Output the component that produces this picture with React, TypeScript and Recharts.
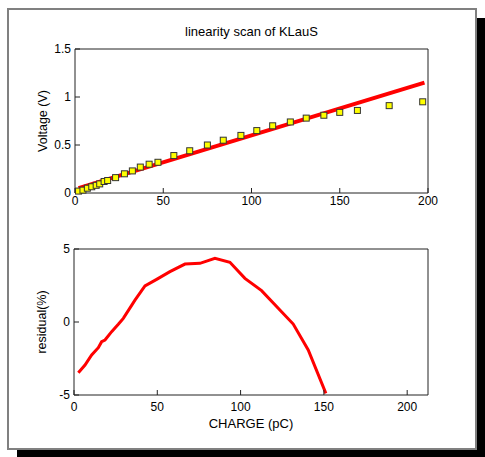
import { ComposedChart, Scatter, Line, XAxis, YAxis } from 'recharts';

// measured charge (pC) and output voltage (V)
const charge = [2, 4.5, 7, 9.5, 12, 14, 16.5, 18.5, 23, 28, 32.5, 37, 42, 47, 56, 65, 75, 84, 94, 103, 112, 122, 131, 141, 150, 160, 178, 197];
const voltage = [0.02, 0.03, 0.05, 0.065, 0.08, 0.095, 0.12, 0.13, 0.16, 0.2, 0.23, 0.27, 0.3, 0.32, 0.39, 0.44, 0.5, 0.55, 0.6, 0.65, 0.7, 0.74, 0.78, 0.81, 0.84, 0.86, 0.91, 0.95];

// linear fit endpoints
const fitCharge = [2, 198];
const fitVoltage = [0.05, 1.15];

// residual of the fit (%)
const resCharge = [2.6, 6.6, 10.6, 14.6, 16.6, 18.6, 22.6, 26.6, 29.6, 36.6, 42.6, 49.6, 57.6, 66.6, 75.6, 84.6, 93.6, 102.6, 112.6, 122.6, 131.6, 140.6, 151.2];
const resValue = [-3.47, -2.95, -2.26, -1.76, -1.35, -1.23, -0.66, -0.16, 0.25, 1.5, 2.47, 2.92, 3.45, 3.97, 4.02, 4.36, 4.09, 2.99, 2.15, 0.94, -0.14, -1.92, -4.89];

const topXTicks = [0, 50, 100, 150, 200];
const topYTicks = [0, 0.5, 1, 1.5];
const botXTicks = [0, 50, 100, 150, 200];
const botYTicks = [-5, 0, 5];

const FONT = '"Liberation Sans", Arial, sans-serif';
const tickStyle = { fontSize: 12, fill: '#000', fontFamily: FONT };
const labelStyle = { fontSize: 12.5, fill: '#000', fontFamily: FONT };
const axisColor = '#222';

const scanData = charge.map((x, i) => ({ x, y: voltage[i] }));
const fitData = fitCharge.map((x, i) => ({ x, y: fitVoltage[i] }));
const resData = resCharge.map((x, i) => ({ x, y: resValue[i] }));

function Square(props: any) {
  const { cx, cy } = props;
  return <rect x={cx - 3} y={cy - 3} width={6} height={6} fill="#ffff00" stroke="#333" strokeWidth={1} />;
}

export default function App() {
  return (
    <div style={{ position: 'absolute', left: 0, top: 0, width: 485, height: 457, background: '#fff', overflow: 'hidden', fontFamily: FONT }}>
      <div
        style={{
          position: 'absolute',
          left: 7,
          top: 8,
          width: 470,
          height: 442,
          boxSizing: 'border-box',
          border: '2px solid #808080',
          background: '#fff',
          boxShadow: '10px 10px 0 #000',
        }}
      />
      <div style={{ position: 'absolute', left: 75, width: 353, top: 24, textAlign: 'center', fontSize: 13, color: '#000' }}>
        linearity scan of KLauS
      </div>

      <div style={{ position: 'absolute', left: 0, top: 0 }}>
        <ComposedChart width={485} height={215} margin={{ top: 48, right: 56, bottom: 2, left: 11 }}>
          <XAxis
            dataKey="x"
            type="number"
            domain={[0, 200]}
            ticks={topXTicks}
            height={20}
            tickSize={-5}
            tickMargin={8}
            stroke={axisColor}
            tick={tickStyle}
          />
          <XAxis xAxisId="top" orientation="top" type="number" domain={[0, 200]} ticks={topXTicks} height={1} tickSize={-5} tick={false} stroke={axisColor} />
          <YAxis
            dataKey="y"
            type="number"
            domain={[0, 1.5]}
            ticks={topYTicks}
            width={64}
            tickSize={-5}
            tickMargin={9}
            stroke={axisColor}
            tick={tickStyle}
            label={{ value: 'Voltage (V)', angle: -90, position: 'center', style: labelStyle }}
          />
          <YAxis yAxisId="r" orientation="right" type="number" domain={[0, 1.5]} ticks={topYTicks} width={1} tickSize={-5} tick={false} stroke={axisColor} />
          <Line data={fitData} dataKey="y" stroke="#ff0000" strokeWidth={4} dot={false} isAnimationActive={false} />
          <Scatter data={scanData} dataKey="y" shape={Square} isAnimationActive={false} />
        </ComposedChart>
      </div>

      <div style={{ position: 'absolute', left: 0, top: 215 }}>
        <ComposedChart width={485} height={242} margin={{ top: 33, right: 56, bottom: 6, left: 10 }}>
          <XAxis
            dataKey="x"
            type="number"
            domain={[0, 212.5]}
            ticks={botXTicks}
            height={56}
            tickSize={-5}
            tickMargin={12}
            stroke={axisColor}
            tick={tickStyle}
            label={{ value: 'CHARGE (pC)', position: 'center', style: { ...labelStyle, fontSize: 13 } }}
          />
          <XAxis xAxisId="top" orientation="top" type="number" domain={[0, 212.5]} ticks={botXTicks} height={1} tickSize={-5} tick={false} stroke={axisColor} />
          <YAxis
            dataKey="y"
            type="number"
            domain={[-5, 5]}
            ticks={botYTicks}
            width={64}
            tickSize={-5}
            tickMargin={9}
            stroke={axisColor}
            tick={tickStyle}
            label={{ value: 'residual(%)', angle: -90, position: 'center', style: labelStyle }}
          />
          <YAxis yAxisId="r" orientation="right" type="number" domain={[-5, 5]} ticks={botYTicks} width={1} tickSize={-5} tick={false} stroke={axisColor} />
          <Line data={resData} dataKey="y" stroke="#ff0000" strokeWidth={3} dot={false} isAnimationActive={false} />
        </ComposedChart>
      </div>
    </div>
  );
}
